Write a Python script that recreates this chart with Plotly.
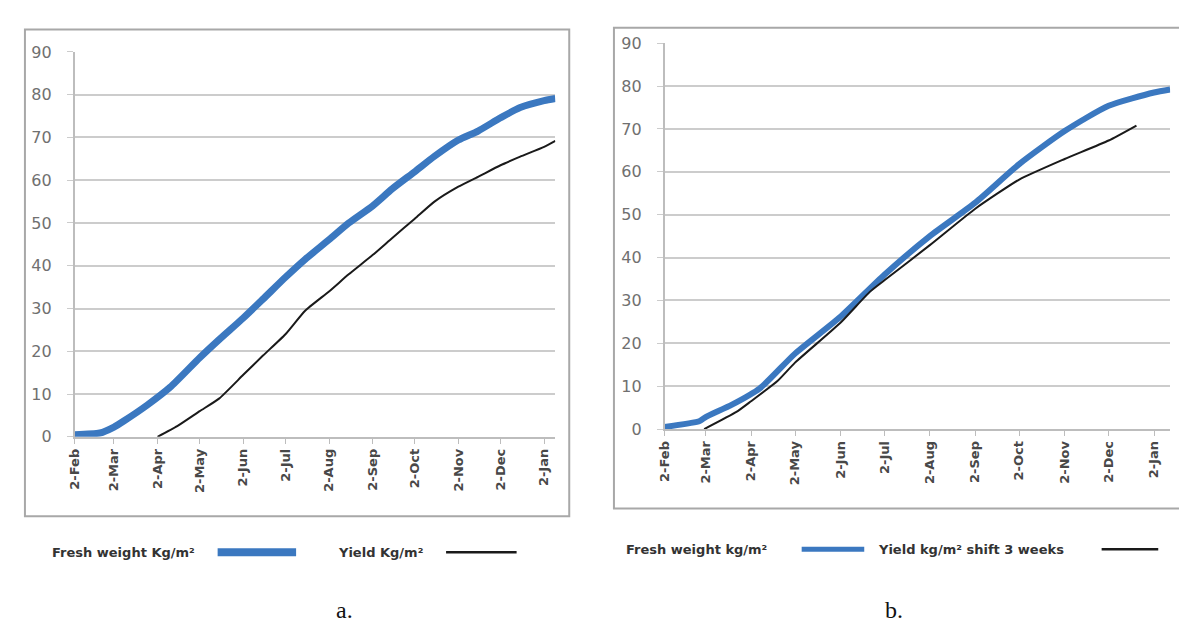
import plotly.graph_objects as go

# ---------------- data ----------------
month_ticks = ["2018-02-02", "2018-03-02", "2018-04-02", "2018-05-02", "2018-06-02", "2018-07-02",
               "2018-08-02", "2018-09-02", "2018-10-02", "2018-11-02", "2018-12-02", "2019-01-02"]
month_labels = ["2-Feb", "2-Mar", "2-Apr", "2-May", "2-Jun", "2-Jul",
                "2-Aug", "2-Sep", "2-Oct", "2-Nov", "2-Dec", "2-Jan"]
y_ticks = [0, 10, 20, 30, 40, 50, 60, 70, 80, 90]

# panel a
fw_a_dates = ["2018-02-02", "2018-02-20", "2018-03-02", "2018-03-09", "2018-03-26", "2018-04-11",
              "2018-05-02", "2018-05-16", "2018-06-02", "2018-06-16", "2018-07-02", "2018-07-16",
              "2018-08-02", "2018-08-16", "2018-09-02", "2018-09-16", "2018-10-02", "2018-10-16",
              "2018-11-02", "2018-11-16", "2018-12-02", "2018-12-16", "2019-01-02", "2019-01-10"]
fw_a = [0.5, 0.9, 2.3, 3.7, 7.5, 11.6, 18.5, 22.8, 27.8, 32.2, 37.3, 41.5,
        46.1, 50.0, 54.0, 58.0, 62.0, 65.6, 69.4, 71.5, 74.6, 77.0, 78.6, 79.1]
yield_a_dates = ["2018-04-02", "2018-04-16", "2018-05-02", "2018-05-16", "2018-06-02", "2018-06-16",
                 "2018-07-02", "2018-07-16", "2018-08-02", "2018-08-16", "2018-09-02", "2018-09-16",
                 "2018-10-02", "2018-10-16", "2018-11-02", "2018-11-16", "2018-12-02", "2018-12-16",
                 "2019-01-02", "2019-01-10"]
yield_a = [0.0, 2.5, 6.0, 9.0, 14.5, 19.0, 24.0, 29.5, 34.0, 38.0, 42.5, 46.5,
           51.0, 55.0, 58.5, 60.8, 63.5, 65.5, 67.8, 69.2]

# panel b
fw_b_dates = ["2018-02-02", "2018-02-26", "2018-03-02", "2018-03-20", "2018-04-08", "2018-05-02",
              "2018-06-02", "2018-07-02", "2018-08-02", "2018-09-02", "2018-10-02", "2018-11-02",
              "2018-12-02", "2019-01-02", "2019-01-13"]
fw_b = [0.5, 1.9, 2.8, 5.7, 9.5, 17.6, 26.2, 36.0, 45.0, 52.8, 61.8, 69.5, 75.4, 78.5, 79.2]
yield_b_dates = ["2018-03-01", "2018-03-23", "2018-04-02", "2018-04-20", "2018-05-02", "2018-06-02",
                 "2018-06-22", "2018-07-02", "2018-08-02", "2018-09-02", "2018-10-02", "2018-11-02",
                 "2018-12-02", "2018-12-21"]
yield_b = [0.0, 4.0, 6.5, 11.2, 15.5, 24.8, 32.0, 34.7, 42.9, 51.4, 58.2, 63.0, 67.3, 70.8]

legend_a = ["Fresh weight Kg/m²", "Yield Kg/m²"]
legend_b = ["Fresh weight kg/m²", "Yield kg/m² shift 3 weeks"]

# ---------------- style ----------------
W, H = 1187, 626
BLUE = "#3b78c0"
BLACK = "#1a1a1a"
GRID = "#cccccc"
AXIS = "#bdbdbd"


def px(x):
    return x / W


def py(y):
    return (H - y) / H


fig = go.Figure()
fig.add_trace(go.Scatter(x=fw_a_dates, y=fw_a, mode="lines", xaxis="x", yaxis="y",
                         line=dict(color=BLUE, width=7, shape="spline", smoothing=0.6)))
fig.add_trace(go.Scatter(x=yield_a_dates, y=yield_a, mode="lines", xaxis="x", yaxis="y",
                         line=dict(color=BLACK, width=2, shape="spline", smoothing=0.5)))
fig.add_trace(go.Scatter(x=fw_b_dates, y=fw_b, mode="lines", xaxis="x2", yaxis="y2",
                         line=dict(color=BLUE, width=6, shape="spline", smoothing=0.6)))
fig.add_trace(go.Scatter(x=yield_b_dates, y=yield_b, mode="lines", xaxis="x2", yaxis="y2",
                         line=dict(color=BLACK, width=2, shape="spline", smoothing=0.5)))

xcommon = dict(type="date", tickmode="array", tickvals=month_ticks, ticktext=month_labels,
               tickangle=-90, showgrid=False, showline=True, linecolor=AXIS, linewidth=1.5,
               ticks="outside", ticklen=5, tickcolor=AXIS, zeroline=False,
               tickfont=dict(family="DejaVu Sans", size=13, color="#484848", weight="bold"))
ycommon = dict(range=[0, 90], tickmode="array", tickvals=y_ticks, showgrid=True, gridcolor=GRID,
               gridwidth=2, showline=True, linecolor=AXIS, linewidth=1.5, ticks="outside",
               ticklen=6, tickcolor=GRID, zeroline=False, ticklabelstandoff=12,
               tickfont=dict(family="DejaVu Sans", size=16, color="#707070"))

fig.update_layout(
    width=W, height=H, margin=dict(l=0, r=0, t=0, b=0),
    paper_bgcolor="white", plot_bgcolor="white", showlegend=False,
    xaxis=dict(xcommon, domain=[px(59), px(543)], range=["2018-02-02", "2019-01-10"], anchor="y"),
    yaxis=dict(ycommon, domain=[py(433), py(36)], anchor="x"),
    xaxis2=dict(xcommon, domain=[px(653), px(1162)], range=["2018-02-02", "2019-01-13"], anchor="y2"),
    yaxis2=dict(ycommon, domain=[py(425), py(27)], anchor="x2"),
)

shapes = [
    dict(type="rect", xref="paper", yref="paper", x0=px(9), x1=px(557), y0=py(515), y1=py(13),
         line=dict(color="#a8a8a8", width=2), layer="below"),
    dict(type="rect", xref="paper", yref="paper", x0=px(602), x1=px(1182), y0=py(507), y1=py(11),
         line=dict(color="#a8a8a8", width=2), layer="below"),
    # legend samples
    dict(type="line", xref="paper", yref="paper", x0=px(203), x1=px(282), y0=py(552), y1=py(552),
         line=dict(color=BLUE, width=8)),
    dict(type="line", xref="paper", yref="paper", x0=px(433), x1=px(504), y0=py(552), y1=py(552),
         line=dict(color=BLACK, width=2.5)),
    dict(type="line", xref="paper", yref="paper", x0=px(791), x1=px(854), y0=py(549), y1=py(549),
         line=dict(color=BLUE, width=5)),
    dict(type="line", xref="paper", yref="paper", x0=px(1093), x1=px(1150), y0=py(549), y1=py(549),
         line=dict(color=BLACK, width=2.5)),
]
fig.update_layout(shapes=shapes)

lf = dict(family="DejaVu Sans", size=13, color="#333333")
ann = [
    dict(text="<b>" + legend_a[0] + "</b>", x=px(34), y=py(552), xanchor="left", yanchor="middle"),
    dict(text="<b>" + legend_a[1] + "</b>", x=px(322), y=py(552), xanchor="left", yanchor="middle"),
    dict(text="<b>" + legend_b[0] + "</b>", x=px(612), y=py(549), xanchor="left", yanchor="middle"),
    dict(text="<b>" + legend_b[1] + "</b>", x=px(866), y=py(549), xanchor="left", yanchor="middle"),
]
for a in ann:
    a.update(xref="paper", yref="paper", showarrow=False, font=lf)
ann.append(dict(text="a.", x=px(331), y=py(612), xref="paper", yref="paper", showarrow=False,
                xanchor="center", yanchor="middle",
                font=dict(family="Liberation Serif", size=24, color="#111111")))
ann.append(dict(text="b.", x=px(884), y=py(612), xref="paper", yref="paper", showarrow=False,
                xanchor="center", yanchor="middle",
                font=dict(family="Liberation Serif", size=24, color="#111111")))
fig.update_layout(annotations=ann)

fig.write_html("out.html")
